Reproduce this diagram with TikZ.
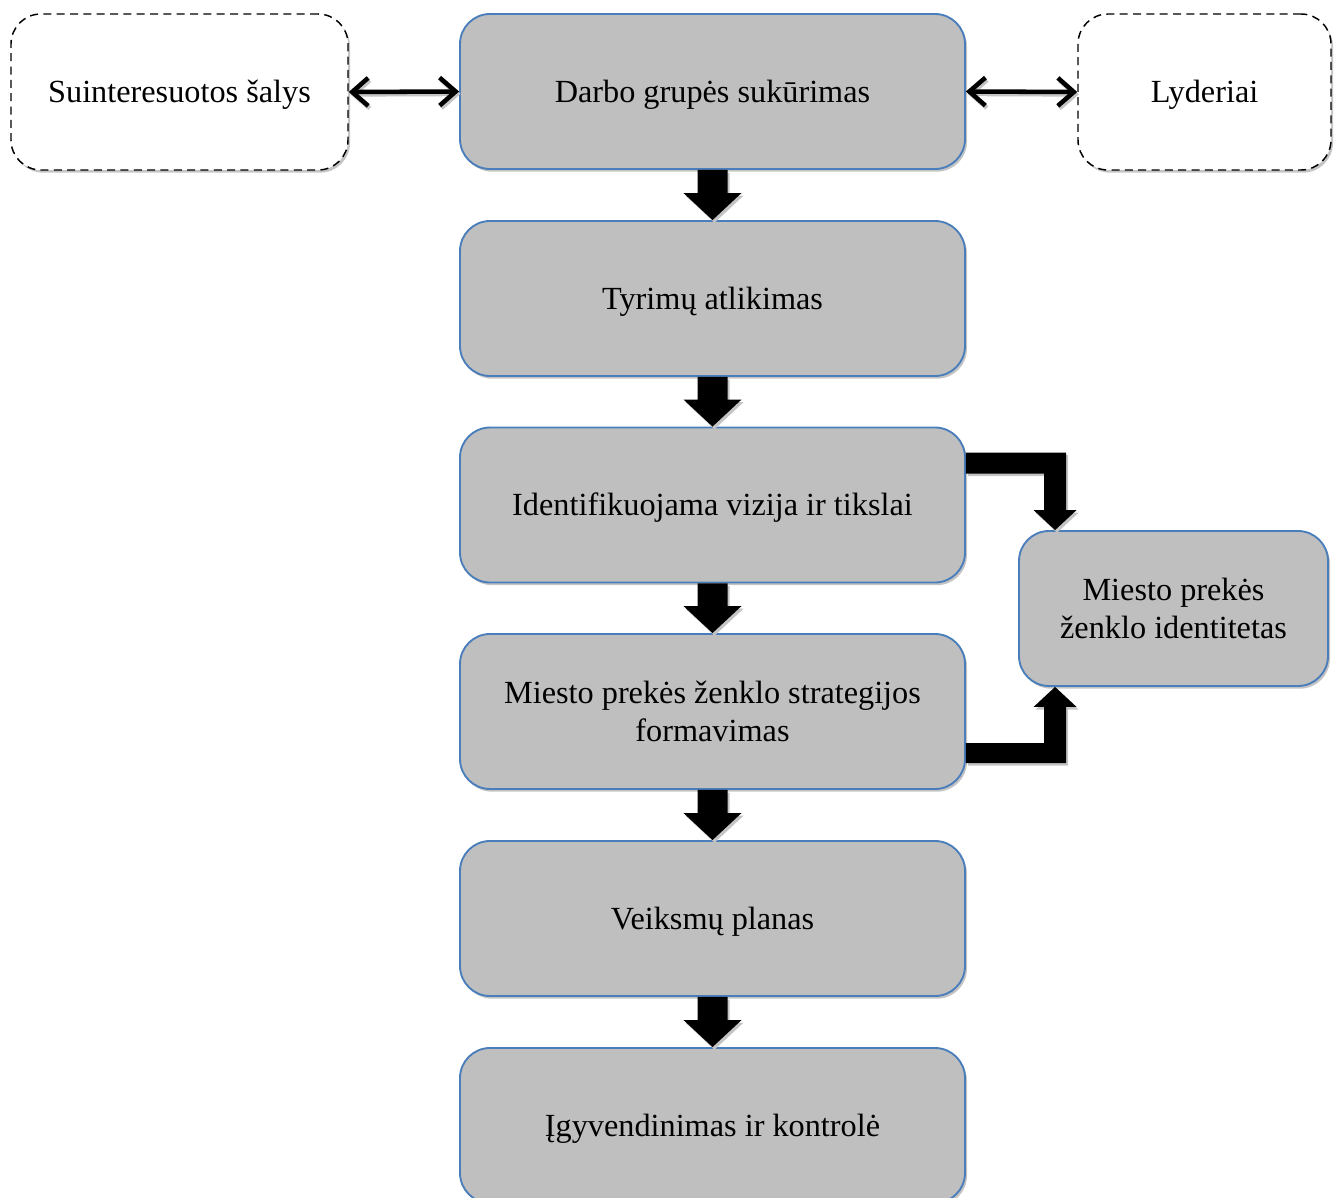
\documentclass[tikz,border=0pt]{standalone}
\usepackage{fontspec}
\setmainfont{Liberation Serif}
\usetikzlibrary{calc,shadows,arrows.meta}
\definecolor{boxfill}{HTML}{BFBFBF}
\definecolor{boxline}{HTML}{4A7EBB}
\definecolor{shade}{HTML}{C4C4C4}
\tikzset{
  soft/.style={drop shadow={shadow xshift=1.5pt, shadow yshift=-2pt, fill=shade, opacity=1}},
  labelfont/.style={font=\fontsize{24.2}{28.5}\selectfont},
  oneline/.style={text height=21.6pt, text depth=5.2pt},
  stage/.style={draw=boxline, line width=1.4pt, fill=boxfill, rounded corners=22.5pt,
    minimum width=378.75pt, minimum height=116.25pt, inner sep=0pt, align=center,
    labelfont, soft},
  party/.style={draw=black, line width=1.1pt, dash pattern=on 6pt off 4pt, fill=white,
    rounded corners=22.5pt, minimum height=117pt, inner sep=0pt, align=center,
    labelfont, oneline, soft},
  link/.style={line width=3.4pt, {Straight Barb[length=12pt,width=21pt]}-{Straight Barb[length=12pt,width=21pt]},
    preaction={draw=shade, line width=3.4pt, transform canvas={shift={(1.2pt,-1.8pt)}}}},
  blockarrow/.style={fill=black, draw=none, soft}
}
% thick downward arrow from the bottom of #1 to the top of #2
\newcommand{\flowdown}[2]{%
  \fill[blockarrow] ($(#1.south)+(-15,0)$) -- ($(#1.south)+(15,0)$)
    -- ($(#2.north)+(15,-27)$) -- ($(#2.north)+(29,-27)$) -- (#2.north)
    -- ($(#2.north)+(-29,-27)$) -- ($(#2.north)+(-15,-27)$) -- cycle;}
\begin{document}
\begin{tikzpicture}[x=0.75pt, y=-0.75pt]
  \useasboundingbox (0,0) rectangle (1339,1198);

  % main sequence of stages
  \node[stage, oneline] (b1) at (712.5,91.5)  {Darbo grupės sukūrimas};
  \node[stage, oneline] (b2) at (712.5,298.5) {Tyrimų atlikimas};
  \node[stage, oneline] (b3) at (712.5,505)   {Identifikuojama vizija ir tikslai};
  \node[stage] (b4) at (712.5,711.5) {Miesto prekės ženklo strategijos\\formavimas};
  \node[stage, oneline] (b5) at (712.5,918.5) {Veiksmų planas};
  \node[stage, oneline] (b6) at (712.5,1125.5){Įgyvendinimas ir kontrolė};

  % side stage
  \node[stage, minimum width=231.75pt] (id) at (1173.5,608.5) {Miesto prekės\\ženklo identitetas};

  % participants
  \node[party, minimum width=252.75pt] (sh) at (179.5,92)  {Suinteresuotos šalys};
  \node[party, minimum width=189.75pt] (ld) at (1204.5,92) {Lyderiai};

  % two-way links
  \draw[link] (sh.east) -- (b1.west);
  \draw[link] (b1.east) -- (ld.west);

  % downward flow
  \flowdown{b1}{b2}
  \flowdown{b2}{b3}
  \flowdown{b3}{b4}
  \flowdown{b4}{b5}
  \flowdown{b5}{b6}

  % elbow arrows into the identity stage
  \coordinate (t1) at ($(id.north west)+(37,0)$);
  \coordinate (s1) at ($(b3.east)+(0,-42)$);
  \coordinate (c1) at (s1 -| t1);
  \fill[blockarrow] ($(s1)+(0,-10.5)$) -- ($(c1)+(11,-10.5)$) -- ($(t1)+(11,-20)$)
    -- ($(t1)+(21.5,-20)$) -- (t1) -- ($(t1)+(-21.5,-20)$) -- ($(t1)+(-11,-20)$)
    -- ($(c1)+(-11,10.5)$) -- ($(s1)+(0,10.5)$) -- cycle;

  \coordinate (t2) at ($(id.south west)+(37,0)$);
  \coordinate (s2) at ($(b4.east)+(0,41.5)$);
  \coordinate (c2) at (s2 -| t2);
  \fill[blockarrow] ($(s2)+(0,10)$) -- ($(c2)+(11,10)$) -- ($(t2)+(11,20)$)
    -- ($(t2)+(21.5,20)$) -- (t2) -- ($(t2)+(-21.5,20)$) -- ($(t2)+(-11,20)$)
    -- ($(c2)+(-11,-10)$) -- ($(s2)+(0,-10)$) -- cycle;
\end{tikzpicture}
\end{document}
